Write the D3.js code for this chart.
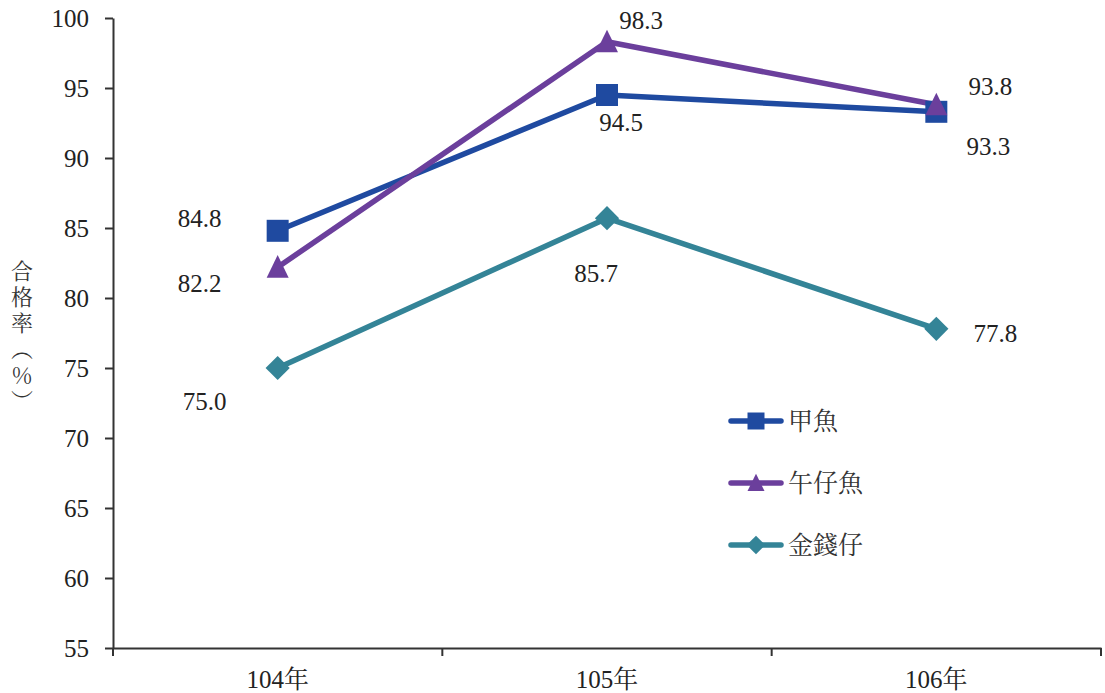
<!DOCTYPE html>
<html><head><meta charset="utf-8">
<script src="https://cdn.jsdelivr.net/npm/d3@7"></script>
<style>
html,body{margin:0;padding:0;background:#fff;}
svg{display:block;}
</style>
</head><body>
<svg id="chart" width="1105" height="693"></svg>
<script>
const categories = ["104年", "105年", "106年"];
const seriesNames = ["甲魚", "午仔魚", "金錢仔"];
const valuesJiayu = [84.8, 94.5, 93.3];
const valuesWuzai = [82.2, 98.3, 93.8];
const valuesJinqian = [75.0, 85.7, 77.8];
const yTicks = [55, 60, 65, 70, 75, 80, 85, 90, 95, 100];
const yLabel = "合格率（％）";

const colors = ["#1F4AA0", "#6B3F9C", "#348497"];
const markers = ["square", "triangle", "diamond"];
const labelOffsets = [
  [[-78, -13], [14, 27], [52, 34]],
  [[-78, 16], [34, -22], [54, -19]],
  [[-73, 33], [-11, 55], [59, 4]]
];
const allValues = [valuesJiayu, valuesWuzai, valuesJinqian];

const numFont = '"Liberation Serif", "Times New Roman", "Noto Serif CJK TC", serif';
const cjkFont = '"Noto Serif CJK TC", "Noto Sans CJK TC", serif';

const svg = d3.select("#chart");

const x = d3.scaleBand().domain(categories).range([113, 1101]).padding(0);
const y = d3.scaleLinear().domain([55, 100]).range([648, 18]);

// Y axis
const gy = svg.append("g").attr("transform", "translate(113,0)")
  .call(d3.axisLeft(y).tickValues(yTicks).tickSize(8).tickSizeOuter(0).tickPadding(16));
gy.attr("font-family", null).attr("font-size", null);
gy.select(".domain").attr("stroke", "#333").attr("stroke-width", 2);
gy.selectAll(".tick line").attr("stroke", "#333").attr("stroke-width", 2);
gy.selectAll(".tick text").style("font-family", numFont).style("font-size", "25px").attr("fill", "#222");

// X axis
const gx = svg.append("g").attr("transform", "translate(0,648)")
  .call(d3.axisBottom(x).tickSize(0).tickSizeOuter(0).tickPadding(22));
gx.attr("font-family", null).attr("font-size", null);
gx.select(".domain").attr("stroke", "#333").attr("stroke-width", 2);
gx.selectAll(".tick text").style("font-family", numFont).style("font-size", "25px").attr("fill", "#222");
const bounds = categories.map(c => x(c)).concat([x.range()[1]]);
gx.selectAll("line.bt").data(bounds).join("line").attr("class", "bt")
  .attr("x1", d => d).attr("x2", d => d).attr("y1", 0).attr("y2", 8)
  .attr("stroke", "#333").attr("stroke-width", 2);

// Y label (vertical)
svg.append("text")
  .attr("x", 22).attr("y", 338)
  .style("writing-mode", "vertical-rl")
  .style("font-family", cjkFont).style("font-size", "22px")
  .attr("text-anchor", "middle")
  .attr("fill", "#333").attr("letter-spacing", 4)
  .text(yLabel);

function markerPath(type, size) {
  const s = size / 2;
  if (type === "square") return `M${-s},${-s}H${s}V${s}H${-s}Z`;
  if (type === "triangle") return `M0,${-s * 1.1}L${s},${s * 0.95}L${-s},${s * 0.95}Z`;
  return `M0,${-s * 1.1}L${s * 1.1},0L0,${s * 1.1}L${-s * 1.1},0Z`;
}

const cx = c => x(c) + x.bandwidth() / 2;
const line = d3.line().x(d => cx(d.c)).y(d => y(d.v));

allValues.forEach((vals, i) => {
  const pts = vals.map((v, j) => ({ c: categories[j], v }));
  svg.append("path").datum(pts).attr("d", line)
    .attr("fill", "none").attr("stroke", colors[i]).attr("stroke-width", 5.5)
    .attr("stroke-linejoin", "round");
});
allValues.forEach((vals, i) => {
  vals.forEach((v, j) => {
    svg.append("path").attr("d", markerPath(markers[i], 22))
      .attr("transform", `translate(${cx(categories[j])},${y(v)})`)
      .attr("fill", colors[i]);
  });
});
allValues.forEach((vals, i) => {
  vals.forEach((v, j) => {
    svg.append("text")
      .attr("x", cx(categories[j]) + labelOffsets[i][j][0])
      .attr("y", y(v) + labelOffsets[i][j][1])
      .attr("dy", "0.35em").attr("text-anchor", "middle")
      .style("font-family", numFont).style("font-size", "25px").attr("fill", "#222")
      .text(v.toFixed(1));
  });
});

// Legend
const legY = [421, 483, 545];
seriesNames.forEach((name, i) => {
  const g = svg.append("g").attr("transform", `translate(0,${legY[i]})`);
  g.append("line").attr("x1", 731).attr("x2", 781).attr("y1", 0).attr("y2", 0)
    .attr("stroke", colors[i]).attr("stroke-width", 5.5).attr("stroke-linecap", "round");
  g.append("path").attr("d", markerPath(markers[i], 17))
    .attr("transform", "translate(756,0)").attr("fill", colors[i]);
  g.append("text").attr("x", 788).attr("y", 0).attr("dy", "0.35em")
    .style("font-family", cjkFont).style("font-size", "25px")
    .attr("fill", "#333").text(name);
});
</script>
</body></html>
